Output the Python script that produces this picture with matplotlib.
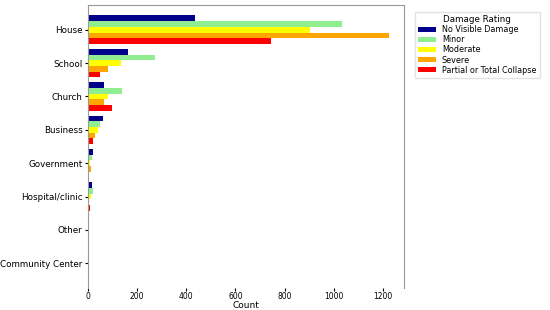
import numpy as np
import matplotlib
matplotlib.use("Agg")
import matplotlib.pyplot as plt

categories = ["House", "School", "Church", "Business", "Government",
              "Hospital/clinic", "Other", "Community Center"]
ratings = ["No Visible Damage", "Minor", "Moderate", "Severe", "Partial or Total Collapse"]
colors = ["darkblue", "lightgreen", "yellow", "orange", "red"]

no_damage = [436, 163, 66, 62, 20, 15, 4, 0]
minor = [1035, 273, 138, 49, 18, 20, 2, 6]
moderate = [904, 134, 82, 39, 10, 12, 3, 3]
severe = [1226, 82, 65, 29, 14, 0, 6, 0]
collapse = [745, 49, 96, 22, 4, 7, 5, 0]

series = [no_damage, minor, moderate, severe, collapse]

fig = plt.figure(figsize=(5.5, 3.1), dpi=100)
ax = fig.add_axes([0.16, 0.07, 0.575, 0.915])

y = np.arange(len(categories))
h = 0.17
for i, (vals, name, c) in enumerate(zip(series, ratings, colors)):
    ax.barh(y + (i - 2) * h, vals, height=h, color=c, label=name)

ax.set_yticks(y)
ax.set_yticklabels(categories, fontsize=6.3)
ax.set_ylim(len(categories) - 0.25, -0.75)
ax.set_xlim(0, 1287)
ax.set_xticks([0, 200, 400, 600, 800, 1000, 1200])
ax.tick_params(axis="x", labelsize=5.5, length=2, pad=1)
ax.tick_params(axis="y", length=2, pad=2)
ax.set_xlabel("Count", fontsize=6.5, labelpad=0)
for s in ax.spines.values():
    s.set_color("#999999")
    s.set_linewidth(0.8)
ax.spines["bottom"].set_visible(False)

ax.legend(title="Damage Rating", loc="upper left", bbox_to_anchor=(1.02, 0.99),
          fontsize=5.8, title_fontsize=6.3, frameon=True, fancybox=False,
          edgecolor="#dddddd", handlelength=2.2, handleheight=0.6,
          labelspacing=0.15, borderpad=0.4)

plt.savefig("out.png", dpi=100)
